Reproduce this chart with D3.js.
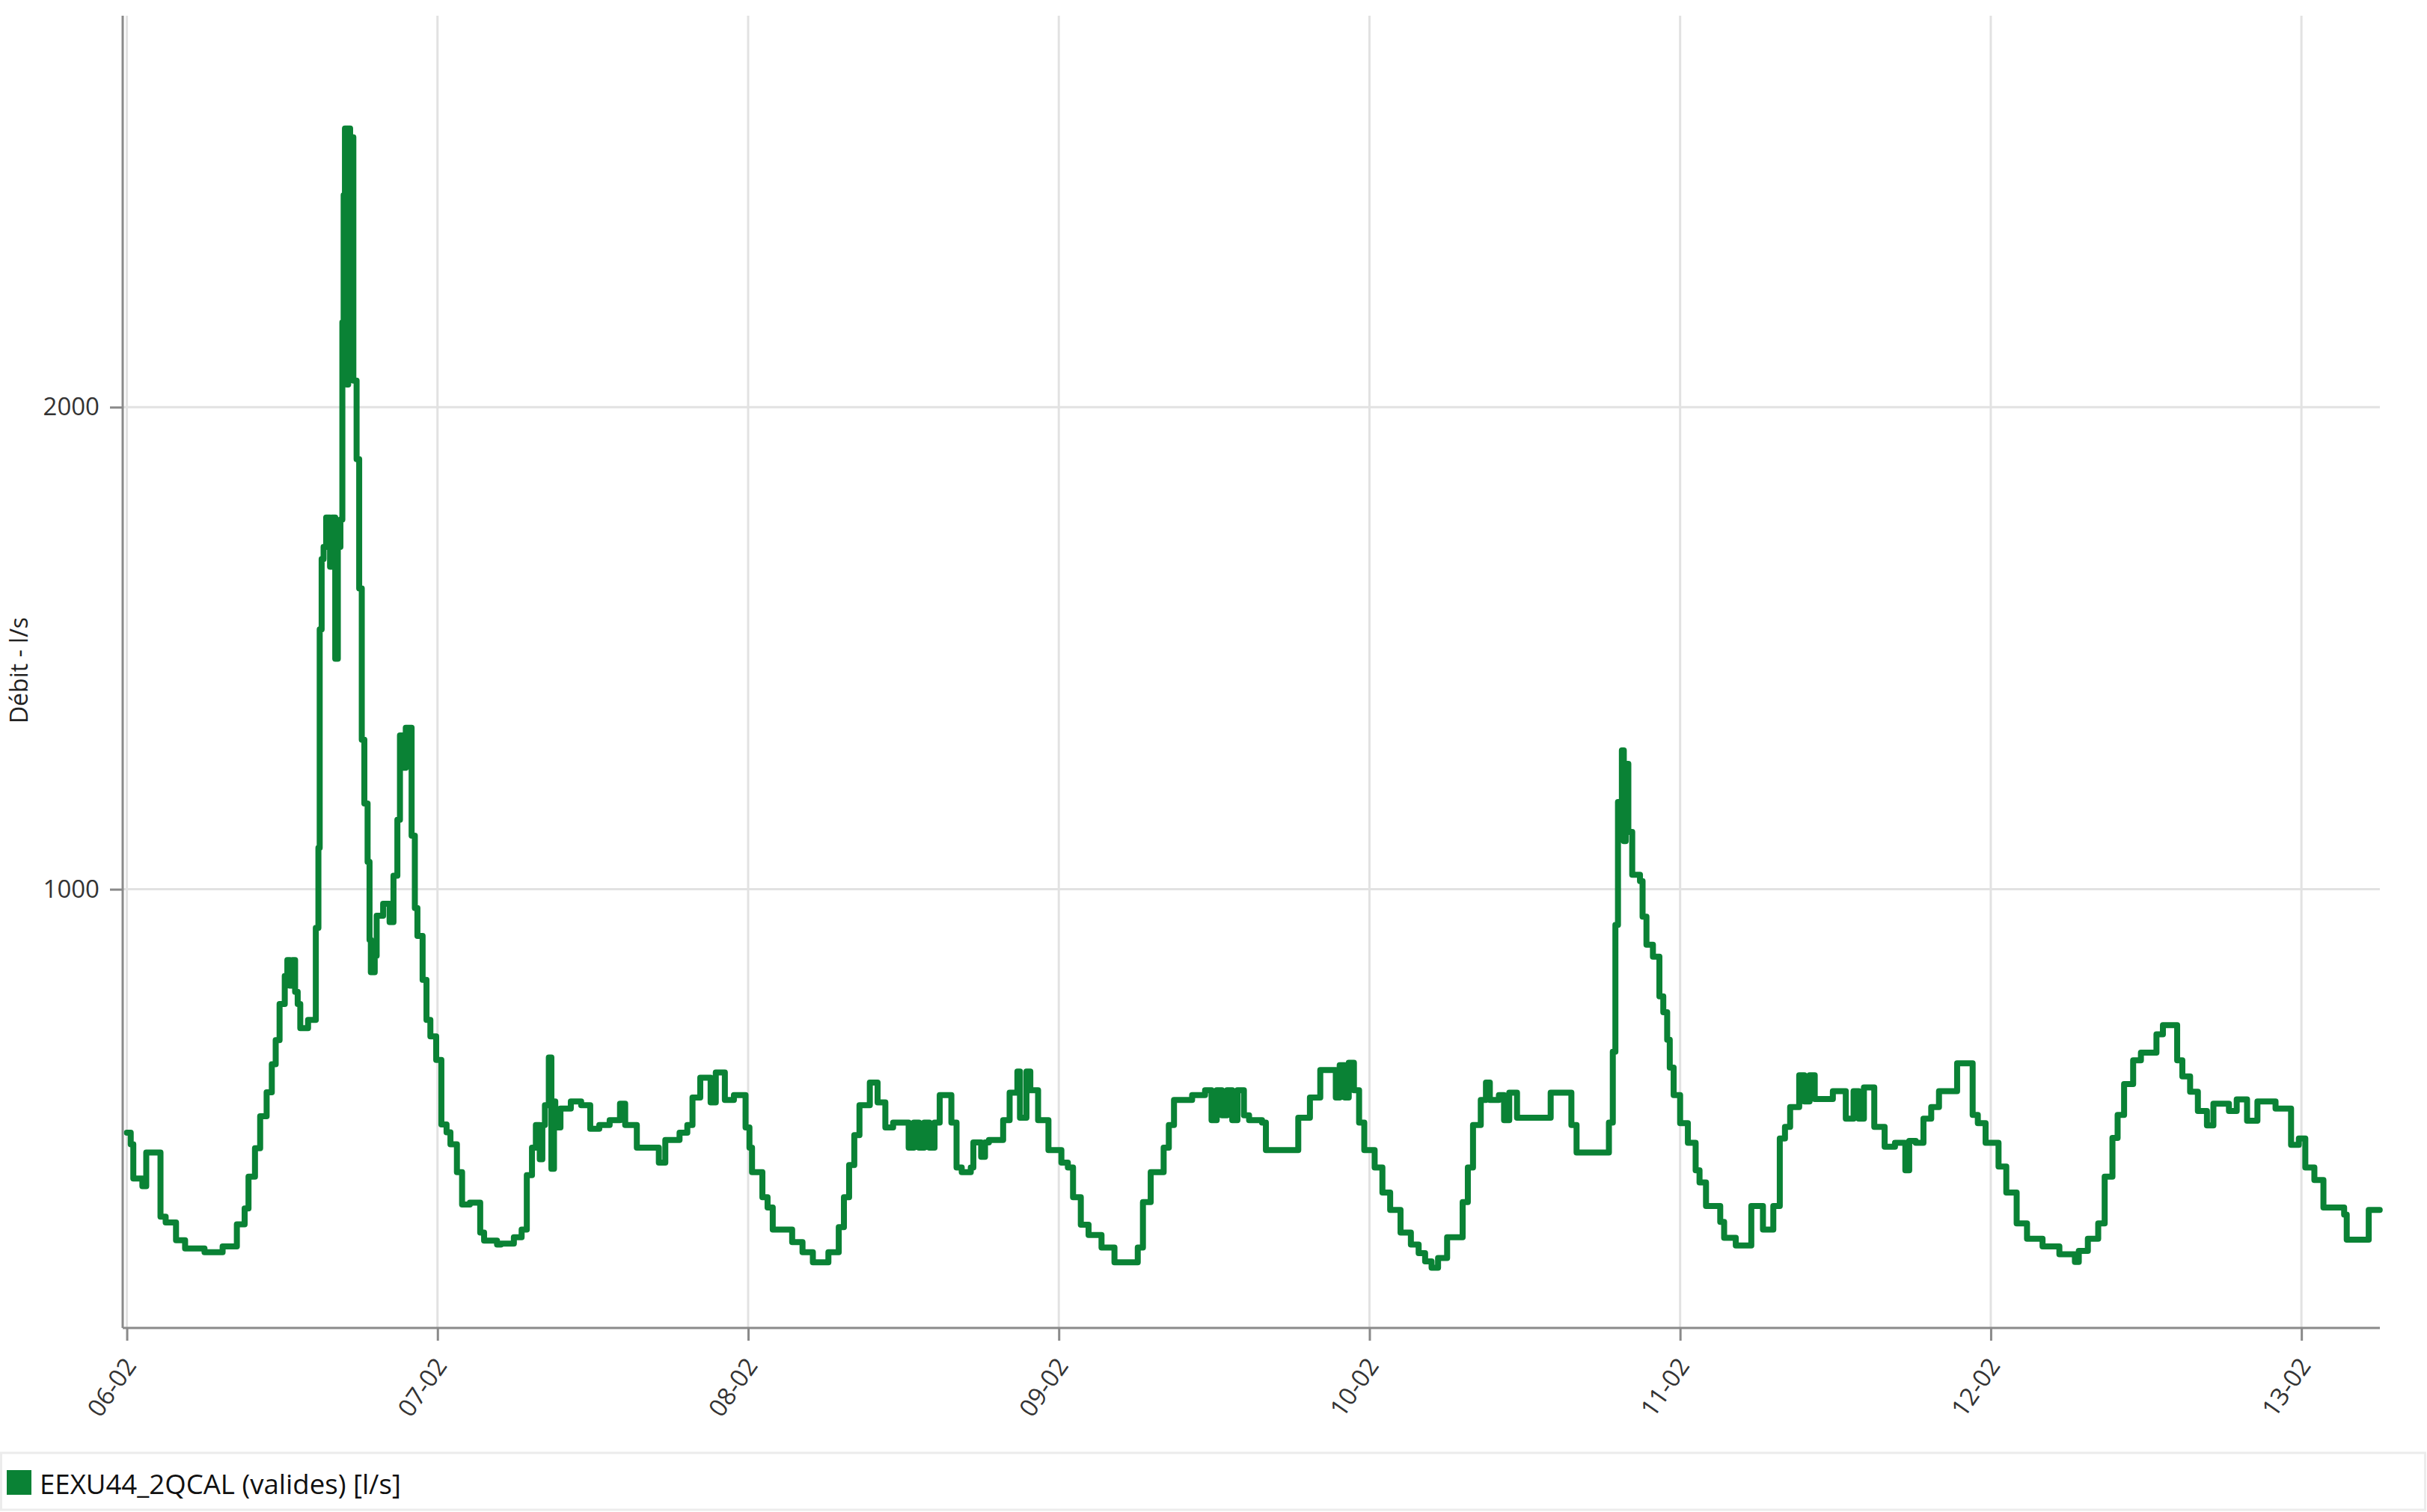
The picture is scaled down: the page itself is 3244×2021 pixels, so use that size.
<!DOCTYPE html>
<html><head><meta charset="utf-8">
<script src="https://cdn.jsdelivr.net/npm/d3@7/dist/d3.min.js"></script>
<style>
body{margin:0;background:#fff;}
svg{display:block;font-family:"Open Sans","Noto Sans",sans-serif;}
</style></head><body>
<svg id="chart" width="3244" height="2021"></svg>
<script>
// ---- data (hour of day, flow l/s), step values ----
const firstDay = "2024-02-06";
const day06 = [[0,495],[0.3,471],[0.5,400],[1.2,384],[1.5,454],[2.6,321],[3.0,309],[3.8,272],[4.5,255],[6.0,247],[7.4,259],[8.5,305],[9.1,338],[9.4,404],[9.9,463],[10.3,529],[10.8,579],[11.2,637],[11.5,687],[11.8,762],[12.2,820],[12.4,853],[12.6,800],[12.8,853],[13.0,787],[13.2,762],[13.4,712],[14.0,729],[14.6,920],[14.8,1086],[14.9,1539],[15.05,1685],[15.2,1710],[15.4,1771],[15.7,1669],[15.85,1771],[16.1,1478],[16.3,1710],[16.5,1767],[16.65,2176],[16.75,2440],[16.85,2578],[17.0,2047],[17.1,2578],[17.25,2100],[17.35,2560],[17.5,2055],[17.75,1892],[17.95,1624],[18.15,1310],[18.35,1178],[18.6,1057],[18.75,895],[18.85,828],[19.15,862],[19.3,945],[19.8,970],[20.3,932],[20.6,1028],[20.9,1144],[21.1,1319],[21.4,1252],[21.55,1335],[22.0,1111],[22.25,961],[22.45,903],[22.85,812],[23.15,729],[23.45,695],[23.9,646]];
const day07 = [[0.3,512],[0.7,496],[1.0,471],[1.5,413],[1.9,346],[2.5,350],[3.3,288],[3.6,271],[4.6,263],[4.9,265],[5.9,278],[6.5,294],[6.9,407],[7.3,464],[7.6,511],[7.9,440],[8.1,511],[8.3,552],[8.6,651],[8.8,420],[9.0,560],[9.1,506],[9.5,545],[10.3,560],[11.1,552],[11.8,503],[12.5,511],[13.3,521],[14.1,555],[14.5,511],[15.4,464],[17.1,433],[17.6,480],[18.7,495],[19.3,511],[19.7,568],[20.3,609],[21.1,558],[21.5,620],[22.2,563],[22.9,573],[23.8,506]];
const day08 = [[0.1,464],[0.3,413],[1.1,361],[1.5,340],[1.9,294],[3.4,268],[4.2,247],[5.0,226],[6.2,247],[7.0,299],[7.4,361],[7.8,428],[8.2,490],[8.6,552],[9.4,599],[10.0,558],[10.6,506],[11.2,516],[12.4,464],[12.8,516],[13.2,464],[13.6,516],[14.0,464],[14.4,516],[14.8,573],[15.7,516],[16.1,423],[16.5,413],[17.2,423],[17.4,475],[18.0,445],[18.3,475],[18.6,480],[19.7,521],[20.2,578],[20.8,622],[21.0,526],[21.5,622],[21.8,583],[22.4,521],[23.2,459]];
const day09 = [[0.2,433],[0.7,423],[1.1,361],[1.7,304],[2.3,283],[3.3,257],[4.3,226],[6.1,257],[6.5,351],[7.1,413],[8.1,464],[8.5,511],[8.9,563],[10.3,573],[11.3,583],[11.8,521],[12.2,583],[12.6,531],[13.0,583],[13.4,521],[13.8,583],[14.3,531],[14.7,521],[15.7,516],[16.0,459],[18.5,526],[19.4,568],[20.2,625],[21.4,568],[21.7,635],[22.1,568],[22.4,640],[22.8,583],[23.2,516],[23.6,459]];
const day10 = [[0.4,423],[1.0,371],[1.6,335],[2.4,288],[3.2,263],[3.8,245],[4.3,228],[4.8,215],[5.3,235],[6.0,278],[7.2,351],[7.6,423],[8.0,511],[8.6,563],[9.0,599],[9.3,563],[10.0,573],[10.4,521],[10.8,578],[11.4,526],[14.0,578],[15.6,511],[16.0,454],[18.5,516],[18.8,663],[19.0,926],[19.2,1181],[19.5,1288],[19.65,1100],[19.8,1260],[20.0,1119],[20.3,1030],[20.9,1017],[21.1,943],[21.4,885],[21.9,860],[22.4,778],[22.7,745],[23.0,688],[23.2,630],[23.5,573]];
const day11 = [[0.0,515],[0.6,474],[1.2,417],[1.5,392],[2.0,343],[3.1,310],[3.4,277],[4.3,261],[5.5,343],[6.4,294],[7.2,343],[7.7,483],[8.1,507],[8.5,548],[9.2,614],[9.6,560],[10.0,614],[10.4,565],[11.8,581],[12.8,524],[13.4,581],[13.8,524],[14.2,589],[15.0,507],[15.8,466],[16.6,474],[17.4,417],[17.7,478],[18.2,474],[18.8,524],[19.4,548],[20.0,581],[21.4,639],[22.6,532],[23.0,515],[23.6,474]];
const day12 = [[0.6,425],[1.2,371],[2.0,307],[2.8,275],[4.0,259],[5.3,243],[6.5,227],[6.8,250],[7.5,275],[8.3,307],[8.8,404],[9.4,484],[9.8,532],[10.3,596],[11.0,645],[11.6,661],[12.8,699],[13.3,718],[14.4,645],[14.8,612],[15.4,580],[16.0,540],[16.7,510],[17.2,555],[18.4,540],[19.0,564],[19.8,520],[20.6,560],[22.0,545],[23.2,470],[23.8,483]];
const day13 = [[0.3,423],[1.0,397],[1.7,340],[3.3,325],[3.5,273],[5.2,335],[6.05,335]];
const days = [day06, day07, day08, day09, day10, day11, day12, day13];
const yTicks = [1000, 2000];
const seriesName = "EEXU44_2QCAL (valides) [l/s]";
const yTitle = "Débit - l/s";
const lineColor = "#0a8235";

// ---- build ----
const HOUR = 3600e3;
const t0 = new Date(firstDay + "T00:00:00Z").getTime();
const points = [];
days.forEach((arr, d) => arr.forEach(([h, v]) => points.push({t: new Date(t0 + (d*24 + h)*HOUR), v})));

const W = 3244, H = 2021;
const plot = {left: 164, right: 3181, top: 21, bottom: 1775};
const x = d3.scaleUtc()
  .domain([new Date(t0 - 0.32*HOUR), new Date(t0 + 174.06*HOUR)])
  .range([plot.left, plot.right]);
const y = d3.scaleLinear().domain([90, 2812]).range([plot.bottom, plot.top]);

const svg = d3.select("#chart");
svg.append("rect").attr("width", W).attr("height", H).attr("fill", "#fff");

const dayTicks = d3.utcDay.range(new Date(t0), new Date(t0 + 175*HOUR));

// grid
const grid = svg.append("g");
grid.selectAll("line.h").data(yTicks).join("line")
  .attr("x1", plot.left).attr("x2", plot.right)
  .attr("y1", d => y(d)).attr("y2", d => y(d))
  .attr("stroke", "#e2e2e2").attr("stroke-width", 3);
grid.selectAll("line.v").data(dayTicks).join("line")
  .attr("x1", d => x(d)).attr("x2", d => x(d))
  .attr("y1", plot.top).attr("y2", plot.bottom)
  .attr("stroke", "#e2e2e2").attr("stroke-width", 3);

// line
const clipId = "plotclip";
svg.append("clipPath").attr("id", clipId).append("rect")
  .attr("x", plot.left).attr("y", plot.top - 10)
  .attr("width", plot.right - plot.left + 6).attr("height", plot.bottom - plot.top + 10);
svg.append("path").datum(points)
  .attr("clip-path", `url(#${clipId})`)
  .attr("fill", "none").attr("stroke", lineColor).attr("stroke-width", 8)
  .attr("stroke-linejoin", "round").attr("stroke-linecap", "round")
  .attr("d", d3.line().x(d => x(d.t)).y(d => y(d.v)).curve(d3.curveStepAfter));

// axes
const axisColor = "#8a8a8a";
const yAxis = svg.append("g").attr("transform", `translate(${plot.left},0)`)
  .call(d3.axisLeft(y).tickValues(yTicks).tickFormat(d3.format("d")).tickSize(17).tickPadding(14));
yAxis.select(".domain").attr("d", `M0,${plot.top}V${plot.bottom}`);
const xAxis = svg.append("g").attr("transform", `translate(0,${plot.bottom})`)
  .call(d3.axisBottom(x).tickValues(dayTicks).tickFormat(d3.utcFormat("%d-%m")).tickSize(17).tickPadding(0));
xAxis.select(".domain").attr("d", `M${plot.left},0H${plot.right}`);
[yAxis, xAxis].forEach(g => {
  g.select(".domain").attr("stroke", axisColor).attr("stroke-width", 3);
  g.selectAll(".tick line").attr("stroke", axisColor).attr("stroke-width", 3);
  g.selectAll(".tick text").attr("fill", "#333").attr("font-size", 33)
   .attr("font-family", "'Open Sans','Noto Sans',sans-serif");
});
xAxis.selectAll(".tick text")
  .attr("text-anchor", "end").attr("dy", "0.35em")
  .attr("transform", "translate(4,44) rotate(-55)").attr("y", 0).attr("x", 0);

// y title
svg.append("text").attr("transform", `translate(37,896) rotate(-90)`)
  .attr("text-anchor", "middle").attr("font-size", 32).attr("fill", "#222")
  .text(yTitle);

// legend
const lg = svg.append("g");
lg.append("rect").attr("x", 1.5).attr("y", 1942).attr("width", W - 4).attr("height", 76)
  .attr("fill", "#fff").attr("stroke", "#ececec").attr("stroke-width", 3);
lg.append("rect").attr("x", 9).attr("y", 1965).attr("width", 33).attr("height", 33).attr("fill", lineColor);
lg.append("text").attr("x", 53).attr("y", 1997).attr("font-size", 36.6).attr("fill", "#111")
  .text(seriesName);
</script>
</body></html>
